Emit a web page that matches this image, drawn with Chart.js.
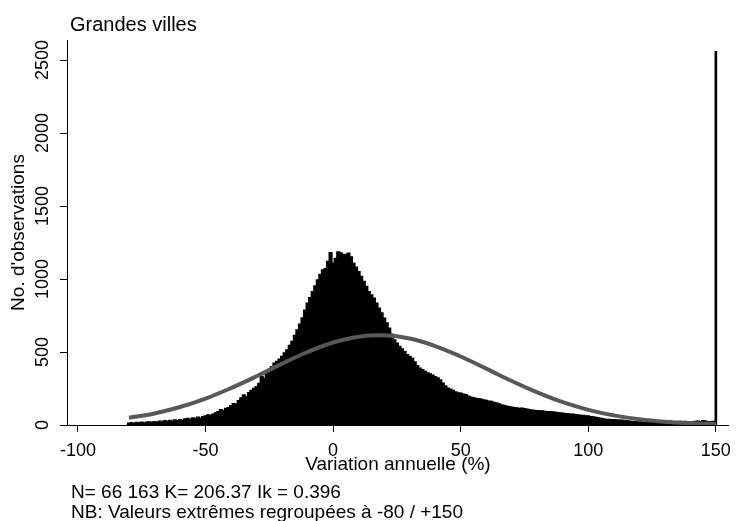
<!DOCTYPE html>
<html lang="fr">
<head>
<meta charset="utf-8">
<title>Grandes villes</title>
<script src="https://cdn.jsdelivr.net/npm/chart.js@4.4.1/dist/chart.umd.min.js"></script>
<style>
  html, body { margin: 0; padding: 0; background: #fff; }
  #chart { display: block; }
</style>
</head>
<body>
<canvas id="chart" width="739" height="521"></canvas>
<script>
// texts
const chartTitle = 'Grandes villes';
const noteLines = ['N= 66 163 K= 206.37 Ik = 0.396', 'NB: Valeurs extrêmes regroupées à -80 / +150'];
const xTitle = 'Variation annuelle (%)';
const yTitle = "No. d'observations";

// axes
const xTickValues = [-100, -50, 0, 50, 100, 150];
const yTickValues = [0, 500, 1000, 1500, 2000, 2500];

// histogram: one bin per point of %, from -80 to 149, then the grouped extremes at +150
const binStart = -80;
const binWidth = 1;
const binCounts = [
    12, 15, 10, 17, 13, 18, 14, 19, 21, 16,
    22, 18, 26, 21, 28, 24, 31, 26, 34, 29,
    36, 32, 40, 44, 37, 47, 42, 52, 46, 57,
    62, 68, 64, 74, 82, 90, 104, 98, 112, 118,
    132, 146, 141, 165, 184, 205, 192, 220, 236, 250,
    262, 284, 331, 318, 365, 376, 398, 422, 434, 450,
    468, 492, 514, 545, 571, 612, 651, 690, 732, 786,
    833, 872, 913, 952, 993, 1031, 1062, 1070, 1120, 1180,
    1107, 1140, 1185, 1178, 1168, 1164, 1176, 1150, 1107, 1080,
    1050, 1016, 982, 948, 913, 890, 868, 834, 799, 766,
    730, 698, 662, 622, 582, 560, 537, 520, 502, 481,
    468, 457, 431, 406, 388, 378, 366, 356, 349, 341,
    330, 321, 308, 286, 266, 251, 244, 236, 226, 219,
    217, 210, 206, 197, 189, 186, 181, 179, 176, 171,
    168, 163, 160, 154, 151, 144, 137, 134, 128, 124,
    121, 117, 116, 113, 114, 111, 107, 104, 101, 99,
    98, 95, 96, 92, 91, 91, 89, 87, 84, 82,
    80, 77, 76, 74, 73, 70, 68, 65, 64, 62,
    62, 57, 55, 51, 48, 44, 40, 38, 37, 36,
    35, 34, 33, 33, 30, 28, 25, 23, 22, 21,
    20, 19, 18, 17, 16, 18, 16, 15, 17, 20,
    22, 25, 27, 20, 18, 22, 24, 19, 23, 21,
    18, 20, 24, 26, 22, 28, 25, 19, 22, 24
];
const extremeBin = 150;
const extremeCount = 2560;

// normal curve
const curveX = [-80, -70, -60, -50, -40, -30, -20, -10, 0, 10, 20, 30, 40, 50, 60, 70, 80, 90, 100, 110, 120, 130, 140, 150];
const curveY = [49, 79, 123, 181, 253, 334, 420, 500, 565, 605, 614, 592, 541, 469, 386, 301, 223, 156, 104, 66, 39, 22, 12, 6];

const histPoints = binCounts.map((c, i) => ({ x: binStart + i * binWidth, y: c }));
const curvePoints = curveX.map((x, i) => ({ x, y: curveY[i] }));

const fontFamily = '"Liberation Sans", Arial, sans-serif';

// title + footnotes, drawn as canvas text
const notesPlugin = {
    id: 'notes',
    afterDraw(chart) {
        const { ctx } = chart;
        ctx.save();
        ctx.fillStyle = '#000';
        ctx.textAlign = 'left';
        ctx.textBaseline = 'alphabetic';
        ctx.font = `20px ${fontFamily}`;
        ctx.fillText(chartTitle, 70, 31);
        ctx.font = `19px ${fontFamily}`;
        noteLines.forEach((line, i) => ctx.fillText(line, 71, 498 + i * 20));
        ctx.restore();
    }
};

new Chart(document.getElementById('chart'), {
    type: 'bar',
    data: {
        datasets: [
            { type: 'line', data: curvePoints, borderColor: '#585858', borderWidth: 4, pointRadius: 0, tension: 0.4, order: 0 },
            { type: 'bar', data: histPoints, backgroundColor: '#000', borderWidth: 0, barPercentage: 1, categoryPercentage: 1, inflateAmount: 0.8, grouped: false, order: 1 },
            { type: 'bar', data: [{ x: extremeBin, y: extremeCount }], backgroundColor: '#000', borderWidth: 0, barThickness: 2, grouped: false, order: 2 }
        ]
    },
    options: {
        responsive: false,
        animation: false,
        devicePixelRatio: 1,
        layout: { padding: { top: 40, right: 7, bottom: 42, left: 0 } },
        plugins: { legend: { display: false }, tooltip: { enabled: false } },
        scales: {
            x: {
                type: 'linear',
                offset: false,
                min: -104.3,
                max: 155.1,
                afterBuildTicks: s => { s.ticks = xTickValues.map(v => ({ value: v })); },
                afterFit: s => { s.height = 54; },
                grid: { offset: false, drawOnChartArea: false, drawTicks: true, tickLength: 7, color: '#000' },
                border: { display: true, color: '#000', width: 1 },
                ticks: { color: '#000', font: { family: fontFamily, size: 18 }, padding: 8, maxRotation: 0, autoSkip: false, callback: v => String(v) },
                title: { display: true, text: xTitle, color: '#000', font: { family: fontFamily, size: 19 }, padding: { top: 0, bottom: 3 } }
            },
            y: {
                type: 'linear',
                min: 0,
                max: 2637,
                afterBuildTicks: s => { s.ticks = yTickValues.map(v => ({ value: v })); },
                afterFit: s => { s.width = 67; },
                grid: { drawOnChartArea: false, drawTicks: true, tickLength: 7, color: '#000' },
                border: { display: true, color: '#000', width: 1 },
                ticks: { color: '#000', font: { family: fontFamily, size: 18 }, minRotation: 90, maxRotation: 90, crossAlign: 'center', padding: -3.5, autoSkip: false, callback: v => String(v) },
                title: { display: true, text: yTitle, color: '#000', font: { family: fontFamily, size: 19 }, padding: { top: 7, bottom: 0 } }
            }
        }
    },
    plugins: [notesPlugin]
});
</script>
</body>
</html>
